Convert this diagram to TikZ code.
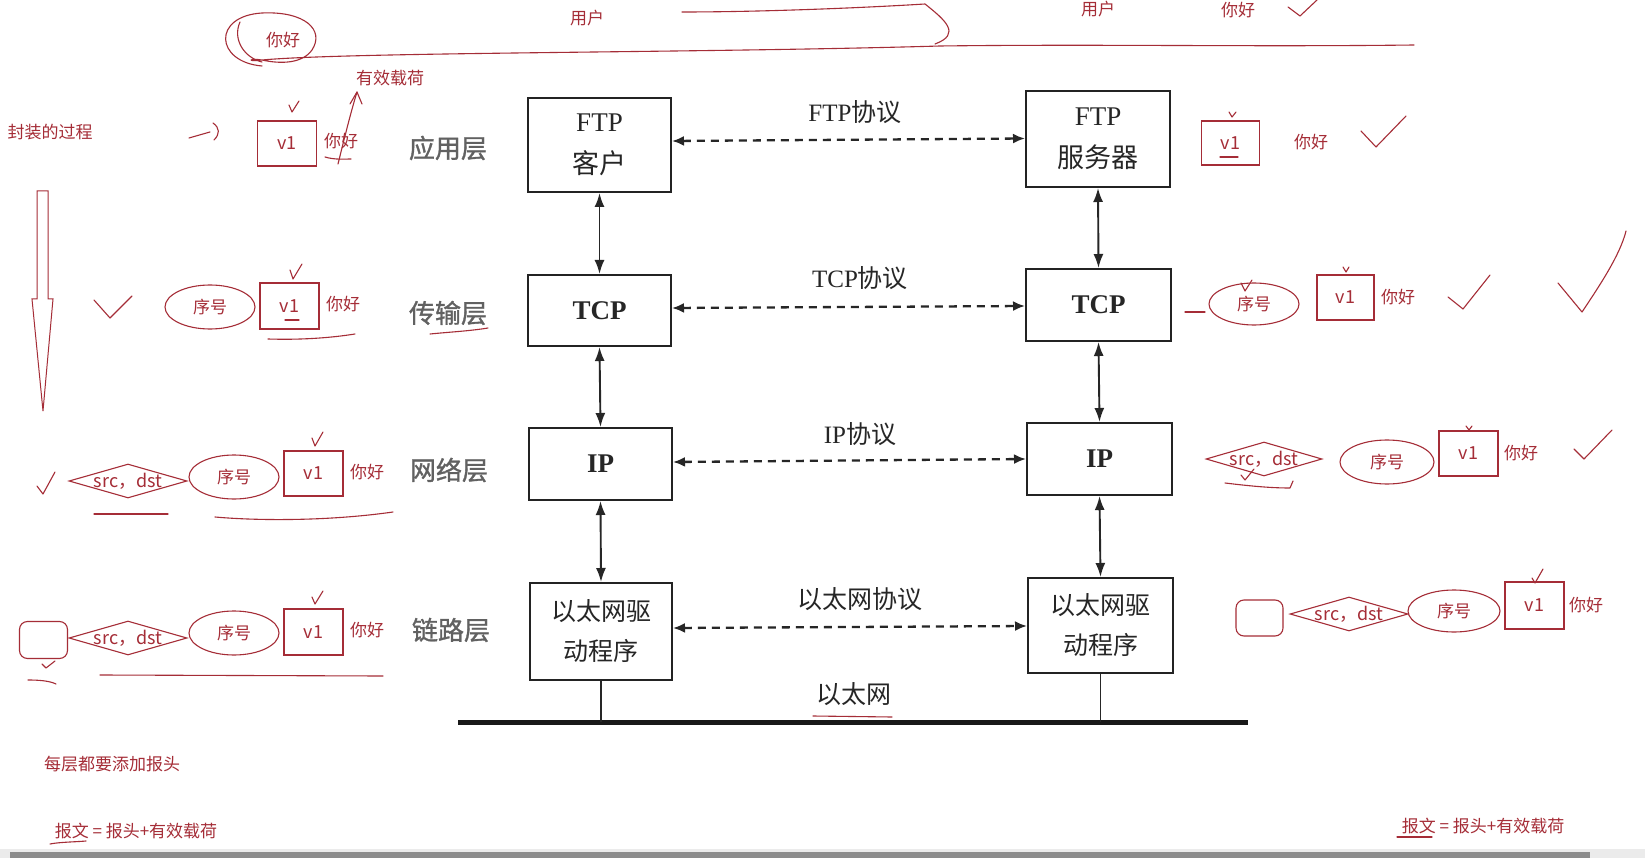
\documentclass[tikz,border=0pt]{standalone}
\usepackage{fontspec}
\setmainfont{Liberation Serif}
\newfontfamily\cjk{Noto Sans CJK SC}
\newfontfamily\cjkfb[FakeBold=1.2]{Noto Sans CJK SC}
\usetikzlibrary{arrows.meta,shapes.geometric}
\definecolor{ink}{RGB}{165,45,55}
\definecolor{boxline}{RGB}{35,35,35}
\begin{document}
\begin{tikzpicture}[x=1pt,y=-1pt,
  box/.style={draw=boxline, line width=2pt, align=center, inner sep=0pt, text=black!85},
  boxtxt/.style={font=\fontsize{27}{42}\selectfont},
  layer/.style={text=black!62, font=\cjkfb\fontsize{26}{26}\selectfont, inner sep=0pt},
  proto/.style={text=black!85, font=\fontsize{25}{25}\selectfont, inner sep=0pt},
  darrow/.style={{Latex[length=12pt,width=10pt]}-{Latex[length=12pt,width=10pt]}, dash pattern=on 8pt off 6pt, line width=2.3pt, draw=black!85},
  varrow/.style={{Latex[length=14pt,width=10pt]}-{Latex[length=14pt,width=10pt]}, line width=1.9pt, draw=black!85},
  ann/.style={text=ink, font=\cjk\fontsize{17}{17}\selectfont, inner sep=0pt},
  inkline/.style={draw=ink, line width=1.1pt, line cap=round, line join=round},
  vbox/.style={draw=ink, line width=1.1pt, minimum width=59pt, minimum height=45pt, inner sep=0pt, text=ink, font=\cjk\fontsize{18}{18}\selectfont},
  seqell/.style={ellipse, draw=ink, line width=1.1pt, minimum width=90pt, minimum height=44pt, inner sep=0pt},
  addr/.style={diamond, draw=ink, line width=1.1pt, minimum width=118pt, minimum height=34pt, inner sep=0pt},
  frame/.style={draw=ink, line width=1.1pt, rounded corners=8pt, minimum width=48pt, minimum height=37pt, inner sep=0pt}
]
\useasboundingbox (0,0) rectangle (1645,858);
\fill[white] (0,0) rectangle (1645,858);

% ===== protocol stack =====
\node[box, boxtxt, minimum width=143pt, minimum height=94pt] (ftpc) at (599.5,145) {FTP\\{\cjk 客户}};
\node[box, boxtxt, minimum width=144pt, minimum height=96pt] (ftps) at (1098,139) {FTP\\{\cjk 服务器}};
\node[box, font=\bfseries\fontsize{27}{27}\selectfont, minimum width=143pt, minimum height=71pt] (tcpc) at (599.5,310.5) {TCP};
\node[box, font=\bfseries\fontsize{27}{27}\selectfont, minimum width=145pt, minimum height=72pt] (tcps) at (1098.5,305) {TCP};
\node[box, font=\bfseries\fontsize{27}{27}\selectfont, minimum width=143pt, minimum height=72pt] (ipc) at (600.5,464) {IP};
\node[box, font=\bfseries\fontsize{27}{27}\selectfont, minimum width=145pt, minimum height=72pt] (ips) at (1099.5,459) {IP};
\node[box, font=\cjk\fontsize{25}{40}\selectfont, minimum width=142pt, minimum height=97pt] (ethc) at (601,631.5) {以太网驱\\动程序};
\node[box, font=\cjk\fontsize{25}{40}\selectfont, minimum width=145pt, minimum height=95pt] (eths) at (1100.5,625.5) {以太网驱\\动程序};

\draw[varrow] (ftpc.south) -- (tcpc.north);
\draw[varrow] (tcpc.south) -- (ipc.north);
\draw[varrow] (ipc.south) -- (ethc.north);
\draw[varrow] (ftps.south) -- (tcps.north);
\draw[varrow] (tcps.south) -- (ips.north);
\draw[varrow] (ips.south) -- (eths.north);

\draw[darrow] ([yshift=4pt]ftpc.east) -- ([yshift=0.5pt]ftps.west);
\draw[darrow] ([yshift=2.5pt]tcpc.east) -- ([yshift=-1pt]tcps.west);
\draw[darrow] ([yshift=2pt]ipc.east) -- ([yshift=0pt]ips.west);
\draw[darrow] ([yshift=3.5pt]ethc.east) -- ([yshift=-0.5pt]eths.west);

\node[proto] (pftp) at (855,112) {FTP{\cjk 协议}};
\node[proto] (ptcp) at (860,278) {TCP{\cjk 协议}};
\node[proto] (pip) at (860,434) {IP{\cjk 协议}};
\node[proto, font=\cjk\fontsize{25}{25}\selectfont] (peth) at (860,599) {以太网协议};

\coordinate (busl) at (458,722);
\coordinate (busr) at (1248,722);
\draw[line width=5pt, draw=black!90] (busl) -- (busr);
\draw[line width=1.6pt, draw=black!85] (ethc.south) -- (ethc.south |- busl);
\draw[line width=1.6pt, draw=black!85] (eths.south) -- (eths.south |- busl);
\node[proto, font=\cjk\fontsize{25}{25}\selectfont] (ethnet) at (854,694) {以太网};
\draw[inkline] (813,716) -- (892,717);

\node[layer] (lapp) at (448,148) {应用层};
\node[layer] (ltrans) at (448,313) {传输层};
\node[layer] (lnet) at (449,470) {网络层};
\node[layer] (llink) at (451,630) {链路层};
\draw[inkline] (430,334) .. controls (450,332) and (470,331) .. (488,328);

% ===== top handwriting =====
\node[ann] (user1) at (587,18) {用户};
\node[ann] (user2) at (1098,9) {用户};
\node[ann] (hello0) at (1238,10) {你好};
\draw[inkline] (1288,7) -- (1300,16) -- (1317,0);
\node[ann] (hello00) at (283,40) {你好};
\draw[inkline] (240,22) .. controls (232,40) and (245,58) .. (262,62);
\draw[inkline] (262,66) .. controls (215,62) and (212,16) .. (262,13) .. controls (305,11) and (325,30) .. (312,50) .. controls (302,64) and (280,64) .. (262,60) .. controls (250,58) and (245,62) .. (262,60) .. controls (350,52) and (700,53) .. (940,46) .. controls (1100,44) and (1250,47) .. (1414,45);
\draw[inkline] (682,12) .. controls (760,12) and (860,8) .. (925,4) .. controls (945,20) and (962,34) .. (935,44);

% ===== left column =====
\node[ann] (encap) at (50,132) {封装的过程};
\draw[inkline] (189,138) -- (210,132);
\draw[inkline] (213,123) .. controls (220,128) and (220,134) .. (214,140);
\node[vbox] (lv1a) at (287,143.5) {v1};
\node[ann] (lh1) at (341,141) {你好};
\draw[inkline] (289,105) -- (292,112) -- (299,101);
\draw[inkline] (325,157) .. controls (335,160) and (345,159) .. (351,159);
\draw[inkline] (338,164) .. controls (344,140) and (350,115) .. (357,92);
\draw[inkline] (350,104) -- (357,92) -- (362,104);
\node[ann] (payload) at (390,78) {有效载荷};

\draw[ink, line width=1pt] (37,191) -- (48,191) -- (48,299) -- (53,299) -- (43,411) -- (32,299) -- (37,299) -- cycle;

% transport
\draw[inkline] (94,300) -- (110,318) -- (132,296);
\node[seqell] (lseq2) at (210,307) {};
\node[ann] at (lseq2) {序号};
\node[vbox, minimum height=46pt] (lv12) at (289.5,306) {v1};
\draw[inkline] (285,320) -- (299,320);
\node[ann] (lh2) at (343,304) {你好};
\draw[inkline] (290,270) -- (293,279) -- (302,264);
\draw[inkline] (268,339) .. controls (300,340) and (330,338) .. (355,334);

% network
\draw[inkline] (37,486) -- (43,494) -- (55,472);
\node[addr] (ladr3) at (128,481) {};
\node[ann, font=\cjk\fontsize{18}{18}\selectfont] at (ladr3) {src，dst};
\node[seqell] (lseq3) at (234,477) {};
\node[ann] at (lseq3) {序号};
\node[vbox] (lv13) at (313.5,473.5) {v1};
\node[ann] (lh3) at (367,472) {你好};
\draw[inkline] (312,438) -- (315,446) -- (323,432);
\draw[inkline] (94,514) -- (168,514);
\draw[inkline] (215,517) .. controls (260,521) and (330,521) .. (393,512);

% link
\node[frame] (lfr4) at (43.5,640) {};
\node[addr] (ladr4) at (128,638) {};
\node[ann, font=\cjk\fontsize{18}{18}\selectfont] at (ladr4) {src，dst};
\node[seqell] (lseq4) at (234,633) {};
\node[ann] at (lseq4) {序号};
\node[vbox, minimum height=46pt] (lv14) at (313.5,632) {v1};
\node[ann] (lh4) at (367,630) {你好};
\draw[inkline] (312,597) -- (315,604) -- (323,591);
\draw[inkline] (42,664) -- (46,668) -- (55,661);
\draw[inkline] (28,680) .. controls (40,680) and (50,681) .. (56,684);
\draw[inkline] (100,675) -- (383,676);

% bottom texts
\node[ann] (every) at (112,764) {每层都要添加报头};
\node[ann] (msgl) at (136,831) {报文 = 报头+有效载荷};
\draw[inkline] (50,844) .. controls (60,842) and (75,842) .. (86,841);
\node[ann] (msgr) at (1483,826) {报文 = 报头+有效载荷};
\draw[inkline] (1397,837) -- (1432,837);

% ===== right column =====
\node[vbox, minimum width=58pt, minimum height=44pt] (rv11) at (1230.5,143) {v1};
\draw[inkline] (1220,157) -- (1238,157);
\draw[inkline] (1229,112) -- (1232,117) -- (1236,112);
\node[ann] (rh1) at (1311,142) {你好};
\draw[inkline] (1361,131) -- (1376,147) -- (1406,116);

\draw[inkline] (1185,312) -- (1205,312);
\node[seqell, minimum height=42pt] (rseq2) at (1254,304) {};
\node[ann] at (rseq2) {序号};
\draw[inkline] (1241,283) -- (1245,291) -- (1252,280);
\node[vbox, minimum width=57pt] (rv12) at (1345.5,297.5) {v1};
\draw[inkline] (1343,267) -- (1346,272) -- (1349,267);
\node[ann] (rh2) at (1398,297) {你好};
\draw[inkline] (1448,297) -- (1463,309) -- (1490,275);
\draw[inkline] (1558,283) -- (1582,312) .. controls (1600,285) and (1620,255) .. (1626,231);

\node[addr, minimum width=116pt] (radr3) at (1264,459) {};
\node[ann, font=\cjk\fontsize{18}{18}\selectfont] at (radr3) {src，dst};
\draw[inkline] (1241,475) -- (1245,480) -- (1254,469);
\draw[inkline] (1225,483) .. controls (1250,486) and (1270,488) .. (1290,488) -- (1293,481);
\node[seqell, minimum width=94pt] (rseq3) at (1387,462) {};
\node[ann] at (rseq3) {序号};
\node[vbox] (rv13) at (1468.5,453.5) {v1};
\draw[inkline] (1466,426) -- (1469,430) -- (1472,426);
\node[ann] (rh3) at (1521,453) {你好};
\draw[inkline] (1574,449) -- (1584,459) -- (1612,430);

\node[frame, minimum width=47pt, minimum height=36pt] (rfr4) at (1259.5,618) {};
\node[addr] (radr4) at (1349,614) {};
\node[ann, font=\cjk\fontsize{18}{18}\selectfont] at (radr4) {src，dst};
\node[seqell, minimum width=92pt, minimum height=42pt] (rseq4) at (1454,611) {};
\node[ann] at (rseq4) {序号};
\node[vbox, minimum height=47pt] (rv14) at (1534.5,605.5) {v1};
\draw[inkline] (1532,578) -- (1535,583) -- (1543,569);
\node[ann] (rh4) at (1586,605) {你好};

% scrollbar
\fill[black!8] (0,849) rectangle (1645,858);
\fill[black!45] (10,852) rectangle (1590,858);
\end{tikzpicture}
\end{document}
